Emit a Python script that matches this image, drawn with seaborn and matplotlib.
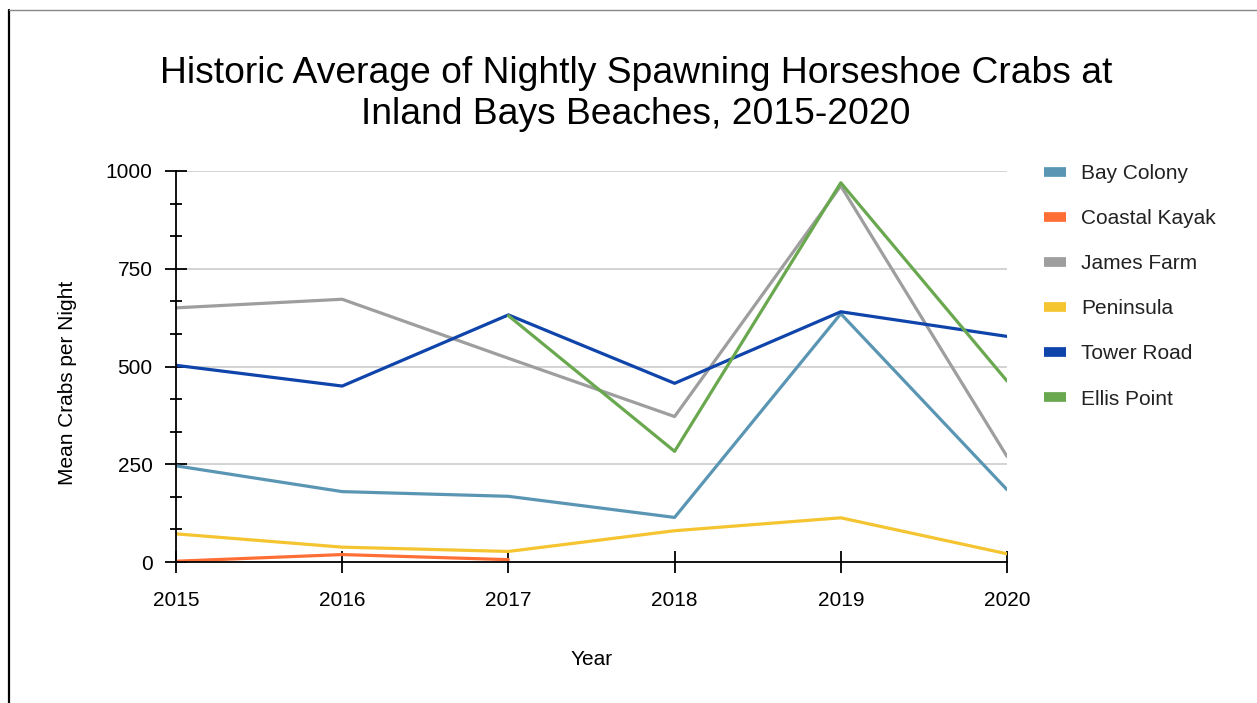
import numpy as np
import pandas as pd
import matplotlib
matplotlib.use("Agg")
import matplotlib.pyplot as plt
from matplotlib.lines import Line2D
from matplotlib.ticker import MultipleLocator
import seaborn as sns

years = [2015, 2016, 2017, 2018, 2019, 2020]
bay_colony = [246, 180, 168, 114, 635, 185]
coastal_kayak = [2, 19, 6, np.nan, np.nan, np.nan]
james_farm = [650, 672, 521, 372, 962, 270]
peninsula = [72, 38, 27, 80, 113, 21]
tower_road = [503, 450, 632, 457, 640, 577]
ellis_point = [np.nan, np.nan, 630, 283, 970, 463]

series_names = ["Bay Colony", "Coastal Kayak", "James Farm", "Peninsula", "Tower Road", "Ellis Point"]
series_values = [bay_colony, coastal_kayak, james_farm, peninsula, tower_road, ellis_point]
colors = ["#5a96b4", "#ff6f35", "#9e9e9e", "#f4c431", "#0f44aa", "#6aa84f"]

title = "Historic Average of Nightly Spawning Horseshoe Crabs at\nInland Bays Beaches, 2015-2020"
y_ticks = [0, 250, 500, 750, 1000]

rows = []
for name, vals in zip(series_names, series_values):
    for yr, v in zip(years, vals):
        rows.append({"Year": yr, "Value": v, "Site": name})
df = pd.DataFrame(rows).dropna()

sns.set_style("white")
plt.rcParams["font.family"] = ["Liberation Sans", "DejaVu Sans"]
plt.rcParams["text.color"] = "black"
plt.rcParams["axes.labelcolor"] = "black"

fig = plt.figure(figsize=(12.57, 7.03), dpi=100)
ax = fig.add_axes([176 / 1257, 1 - 562 / 703, (1007 - 176) / 1257, (562 - 171) / 703])

palette = dict(zip(series_names, colors))
sns.lineplot(data=df, x="Year", y="Value", hue="Site", hue_order=series_names,
             palette=palette, linewidth=2.3, ax=ax, legend=False, sort=True)

ax.set_xlim(2015, 2020)
ax.set_ylim(0, 1000)
ax.set_xticks(years)
ax.set_xticklabels([str(y) for y in years])
ax.set_yticks(y_ticks)
ax.set_yticklabels([str(t) for t in y_ticks])
ax.yaxis.set_minor_locator(MultipleLocator(250 / 3))

for yv in y_ticks[1:]:
    ax.axhline(yv, color="#cccccc", linewidth=1.2, zorder=0)

for s in ["top", "right"]:
    ax.spines[s].set_visible(False)
for s in ["left", "bottom"]:
    ax.spines[s].set_color("black")
    ax.spines[s].set_linewidth(1.3)
    ax.spines[s].set_zorder(5)

ax.tick_params(axis="both", which="major", direction="inout", length=16, width=1.3,
               color="black", labelsize=15, labelcolor="black", left=True, bottom=True)
ax.tick_params(axis="y", which="major", pad=9)
ax.tick_params(axis="x", which="major", pad=13)
ax.tick_params(axis="y", which="minor", direction="inout", length=8, width=1.3, color="black", left=True)
ax.tick_params(axis="x", which="minor", bottom=False)

ax.set_xlabel("Year", fontsize=15)
ax.set_ylabel("Mean Crabs per Night", fontsize=15)
ax.xaxis.set_label_coords(0.5, (562 - 650) / 391)
ax.yaxis.set_label_coords((77 - 176) / 831, (562 - 383) / 391)

fig.text(636 / 1257, 1 - 94 / 703, title, ha="center", va="center", fontsize=26.8,
         multialignment="center", linespacing=1.2, color="black")

handles = [Line2D([0], [0], color=c, linewidth=7, solid_capstyle="butt") for c in colors]
leg = fig.legend(handles, series_names, loc="upper left", bbox_to_anchor=(1036 / 1257, 1 - 156 / 703),
                 frameon=False, fontsize=15, handlelength=1.05, handletextpad=0.7,
                 labelspacing=1.25, borderaxespad=0)
for t in leg.get_texts():
    t.set_color("#222222")

fig.add_artist(Line2D([9 / 1257, 9 / 1257], [0, 1 - 10 / 703], transform=fig.transFigure,
                      color="black", linewidth=1.6))
fig.add_artist(Line2D([9 / 1257, 1], [1 - 10 / 703, 1 - 10 / 703], transform=fig.transFigure,
                      color="#888888", linewidth=1.0))

fig.savefig("out.png", dpi=100)
